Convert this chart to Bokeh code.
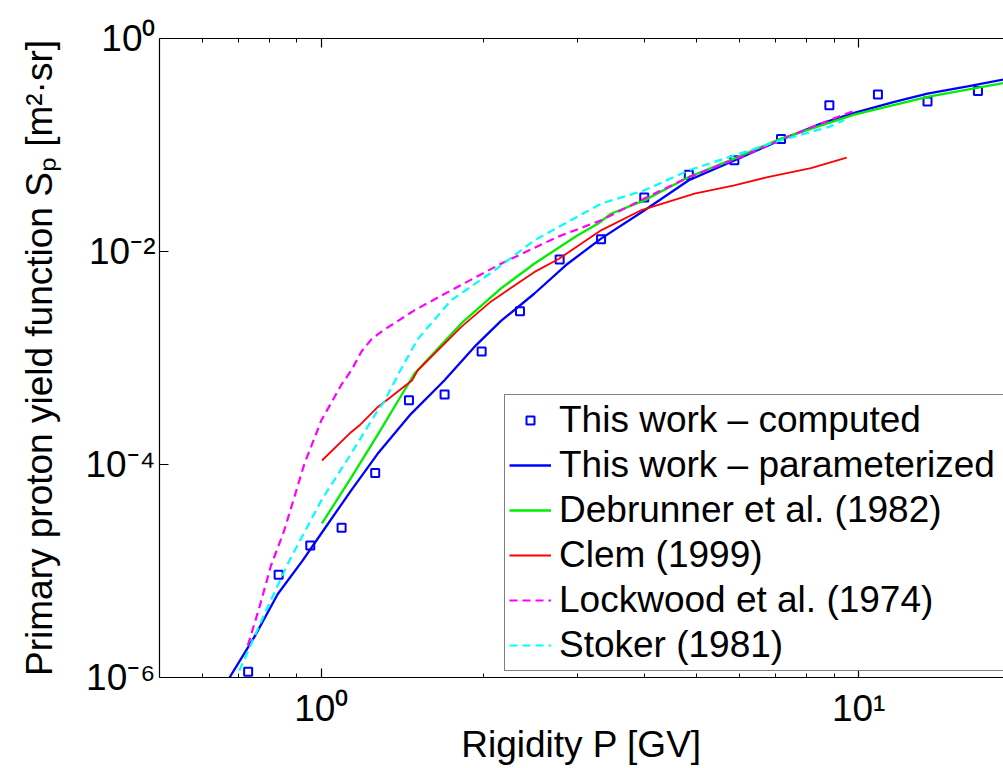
from bokeh.plotting import figure
from bokeh.models import (LogAxis, FixedTicker, Legend, LegendItem, Range1d,
                          CustomJSTickFormatter)
from bokeh.embed import file_html
from bokeh.resources import INLINE

# ---------------- data ----------------
P_computed = [0.731, 0.833, 0.954, 1.091, 1.26, 1.456, 1.696, 1.988, 2.343, 2.777,
              3.316, 3.99, 4.83, 5.87, 7.17, 8.82, 10.86, 13.43, 16.67]
S_computed = [1.13e-6, 9.2e-6, 1.74e-5, 2.55e-5, 8.34e-5, 4.01e-4, 4.54e-4, 1.15e-3,
              2.75e-3, 8.43e-3, 1.30e-2, 3.22e-2, 5.27e-2, 7.18e-2, 0.114, 0.236,
              0.298, 0.256, 0.322]

P_param = [0.675, 0.75, 0.83, 0.923, 1.0, 1.136, 1.273, 1.469, 1.694, 1.927, 2.16,
           2.49, 2.874, 3.316, 3.99, 4.83, 5.87, 7.17, 8.51, 9.81, 11.65, 13.43,
           15.95, 18.64]
S_param = [1.0e-6, 2.38e-6, 6.08e-6, 1.25e-5, 2.25e-5, 5.69e-5, 1.26e-4, 2.99e-4,
           6.15e-4, 1.27e-3, 2.23e-3, 4.01e-3, 7.68e-3, 1.32e-2, 2.43e-2, 4.66e-2,
           7.18e-2, 0.112, 0.159, 0.200, 0.254, 0.304, 0.356, 0.412]

P_debrunner = [1.003, 1.136, 1.273, 1.407, 1.49, 1.82, 2.16, 2.49, 3.0, 3.27, 3.46,
               3.99, 4.83, 5.87, 7.17, 9.81, 13.43, 18.64]
S_debrunner = [2.8e-5, 7.5e-5, 1.9e-4, 4.4e-4, 7.1e-4, 2.1e-3, 4.5e-3, 7.68e-3,
               1.42e-2, 1.82e-2, 2.26e-2, 3.02e-2, 5.0e-2, 7.45e-2, 0.115, 0.193,
               0.283, 0.383]

P_clem = [1.003, 1.136, 1.177, 1.273, 1.475, 1.511, 1.82, 2.07, 2.49, 2.77, 3.316,
          3.93, 4.95, 5.87, 6.77, 8.15, 9.50]
S_clem = [1.09e-4, 2.01e-4, 2.32e-4, 3.45e-4, 6.15e-4, 7.63e-4, 1.95e-3, 3.4e-3,
          6.4e-3, 8.56e-3, 1.58e-2, 2.43e-2, 3.49e-2, 4.18e-2, 5.0e-2, 6.08e-2, 7.61e-2]

P_lockwood = [0.73, 0.767, 0.806, 0.853, 0.93, 1.0, 1.05, 1.088, 1.14, 1.188, 1.24,
              1.3, 1.49, 1.743, 2.16, 2.75, 3.316, 3.99, 4.83, 5.87, 7.17, 8.82, 9.75]
S_lockwood = [2.0e-6, 4.55e-6, 1.12e-5, 2.39e-5, 1.01e-4, 2.59e-4, 4.0e-4, 5.52e-4,
              7.8e-4, 1.15e-3, 1.5e-3, 1.8e-3, 2.80e-3, 4.31e-3, 7.68e-3, 1.37e-2,
              1.96e-2, 3.14e-2, 5.0e-2, 7.29e-2, 0.112, 0.171, 0.207]

P_stoker = [0.704, 0.789, 0.872, 1.0, 1.136, 1.273, 1.31, 1.4, 1.511, 1.743, 2.10,
            2.49, 3.316, 3.99, 4.83, 5.87, 7.17, 8.82, 9.40]
S_stoker = [1.16e-6, 4.24e-6, 1.25e-5, 4.58e-5, 1.26e-4, 3.21e-4, 3.9e-4, 7.5e-4,
            1.5e-3, 3.47e-3, 6.64e-3, 1.27e-2, 2.81e-2, 3.75e-2, 5.78e-2, 8.0e-2,
            0.111, 0.148, 0.171]

series_labels = ["This work \u2013 computed", "This work \u2013 parameterized",
                 "Debrunner et al. (1982)", "Clem (1999)",
                 "Lockwood et al. (1974)", "Stoker (1981)"]

x_ticks = [1, 10]
x_minor_ticks = [0.6, 0.7, 0.8, 0.9, 2, 3, 4, 5, 6, 7, 8, 9, 20]
x_tick_labels = ["10\u2070", "10\u00b9"]
y_ticks = [1e-6, 1e-4, 1e-2, 1.0]
y_tick_labels = ["10\u207b\u2076", "10\u207b\u2074", "10\u207b\u00b2", "10\u2070"]
x_label = "Rigidity P [GV]"
y_label = "Primary proton yield function S\u209a [m\u00b2\u00b7sr]"

# ---------------- layout ----------------
FONT = "Liberation Sans"
BIG = "37px"
W, H = 1003, 768
LEFT, TOP, FRAME_H = 159, 38, 639
DECADE = 537.4
x_lo = 0.5
x_hi = x_lo * 10 ** ((W - LEFT) / DECADE)

p = figure(width=W, height=H, x_axis_type="log", y_axis_type="log",
           x_range=Range1d(x_lo, x_hi), y_range=Range1d(1e-6, 1.0),
           output_backend="svg", toolbar_location=None,
           min_border_left=LEFT, min_border_right=0, min_border_top=TOP,
           min_border_bottom=H - TOP - FRAME_H)
p.xgrid.visible = False
p.ygrid.visible = False
p.outline_line_color = None
p.background_fill_color = "white"
p.border_fill_color = "white"

bottom_axis = p.below[0]
left_axis = p.left[0]
top_axis = LogAxis()
p.add_layout(top_axis, "above")

fmt_code = """
let best = 0, bd = Infinity;
for (let i = 0; i < tv.length; i++) {
  const d = Math.abs(Math.log10(tick) - Math.log10(tv[i]));
  if (d < bd) { bd = d; best = i; }
}
return tl[best];
"""

for ax in [bottom_axis, top_axis]:
    ax.ticker = FixedTicker(ticks=x_ticks, minor_ticks=x_minor_ticks)
    ax.major_tick_in = 9
    ax.major_tick_out = 0
    ax.minor_tick_in = 4
    ax.minor_tick_out = 0
left_axis.ticker = FixedTicker(ticks=y_ticks, minor_ticks=[])
left_axis.major_tick_in = 9
left_axis.major_tick_out = 0
left_axis.minor_tick_in = 0
left_axis.minor_tick_out = 0

for ax in [bottom_axis, top_axis, left_axis]:
    ax.axis_line_color = "black"
    ax.axis_line_width = 1.2
    ax.major_tick_line_color = "black"
    ax.minor_tick_line_color = "black"
    ax.major_tick_line_width = 1.2
    ax.minor_tick_line_width = 1

top_axis.major_label_text_font_size = "8px"
top_axis.major_label_text_color = None
top_axis.major_label_standoff = 0

bottom_axis.formatter = CustomJSTickFormatter(args=dict(tv=x_ticks, tl=x_tick_labels),
                                              code=fmt_code)
left_axis.formatter = CustomJSTickFormatter(args=dict(tv=y_ticks, tl=y_tick_labels),
                                            code=fmt_code)
for ax in [bottom_axis, left_axis]:
    ax.major_label_text_font = FONT
    ax.major_label_text_font_size = BIG
    ax.major_label_text_color = "black"
    ax.axis_label_text_font = FONT
    ax.axis_label_text_font_size = BIG
    ax.axis_label_text_font_style = "normal"
    ax.axis_label_text_color = "black"

bottom_axis.major_label_standoff = 10
bottom_axis.axis_label = x_label
bottom_axis.axis_label_standoff = -8
left_axis.major_label_standoff = 4
left_axis.axis_label = y_label
left_axis.axis_label_standoff = 22

# ---------------- series ----------------
r_comp = p.scatter(P_computed, S_computed, marker="square", size=8,
                   line_color="#0000ff", line_width=2, fill_color=None)
r_param = p.line(P_param, S_param, line_color="#0000ff", line_width=2.3)
r_deb = p.line(P_debrunner, S_debrunner, line_color="#00ee00", line_width=2.3)
r_clem = p.line(P_clem, S_clem, line_color="#ff0000", line_width=1.8)
r_lock = p.line(P_lockwood, S_lockwood, line_color="#ff00ff", line_width=2.2,
                line_dash="8 5")
r_stok = p.line(P_stoker, S_stoker, line_color="#00ffff", line_width=2.2,
                line_dash="8 5")

renderers = [r_comp, r_param, r_deb, r_clem, r_lock, r_stok]
legend = Legend(items=[LegendItem(label=lab, renderers=[r])
                       for lab, r in zip(series_labels, renderers)],
                location=(345, 6), orientation="vertical",
                label_text_font=FONT, label_text_font_size=BIG,
                label_text_color="black",
                glyph_width=42, glyph_height=20, label_height=40, label_width=470,
                spacing=3, padding=4, margin=0, label_standoff=8,
                border_line_color="black", border_line_width=1,
                background_fill_color="white", background_fill_alpha=1.0)
p.add_layout(legend, "center")

open("out.html", "w").write(file_html(p, INLINE))
